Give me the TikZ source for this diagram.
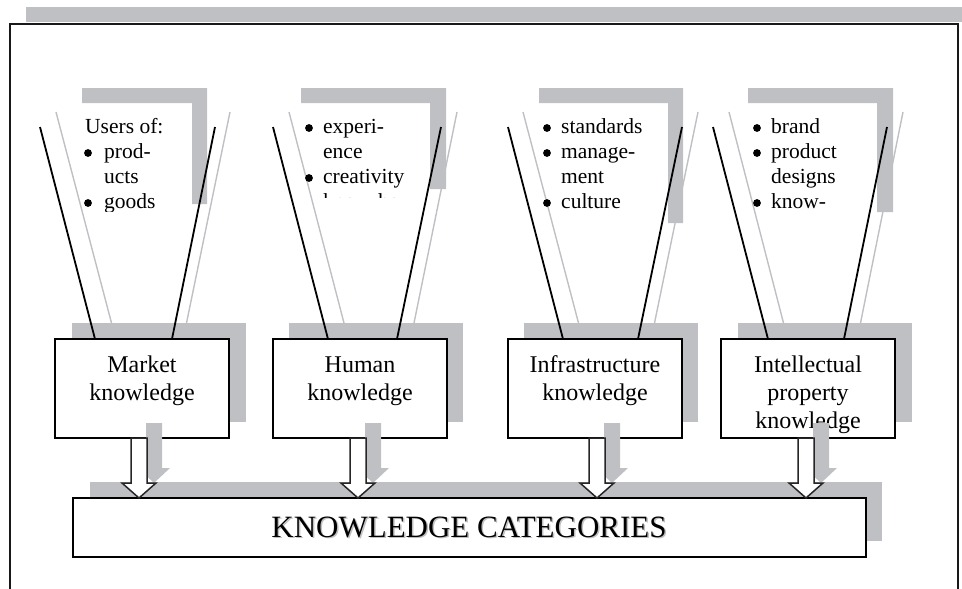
\documentclass[tikz,border=0pt]{standalone}
\usepackage{fontspec}
\setmainfont{Liberation Serif}
\usetikzlibrary{calc}
\definecolor{grayfill}{RGB}{191,192,196}
\begin{document}
\begin{tikzpicture}[x=1pt,y=-1pt,
  boxst/.style={draw=black, line width=1.7pt, fill=white, minimum width=174pt, minimum height=99pt, inner sep=0pt, outer sep=0pt},
  shadowst/.style={fill=grayfill, minimum width=174pt, minimum height=99pt, inner sep=0pt, outer sep=0pt},
  bigbox/.style={draw=black, line width=1.7pt, fill=white, minimum width=793pt, minimum height=59pt, inner sep=0pt, outer sep=0pt},
  bigshadow/.style={fill=grayfill, minimum width=792pt, minimum height=59pt, inner sep=0pt, outer sep=0pt},
  btxt/.style={font=\fontsize{24}{28}\selectfont, anchor=base, inner sep=0pt},
  ftxt/.style={font=\fontsize{21.5}{25}\selectfont, anchor=base west, inner sep=0pt},
  bul/.style={circle, fill=black, minimum size=7.8pt, inner sep=0pt},
  fblack/.style={line width=1.8pt, black},
  fgray/.style={line width=1.4pt, grayfill},
  frame/.style={line width=2.2pt, black!90},
  arrowst/.style={draw=black!85, line width=1.5pt, fill=white},
  grayarrow/.style={fill=grayfill},
]
\useasboundingbox (0,0) rectangle (962,589);

% top gray bar and frame
\fill[grayfill] (26,7) rectangle (962,22);
\draw[frame] (10,589) -- (10,24) -- (958,24) -- (958,589);

% big box
\node[bigshadow] (kcs) at (486,511.5) {};
\node[bigbox] (kc) at (469.5,527.5) {};
\node[font=\fontsize{31}{36}\selectfont, anchor=base, inner sep=0pt, text=grayfill] (kct2) at (470.5,538.2) {KNOWLEDGE CATEGORIES};
\node[font=\fontsize{31}{36}\selectfont, anchor=base, inner sep=0pt] (kct) at (469,537) {KNOWLEDGE CATEGORIES};

% small box shadows
\node[shadowst] (ms) at (158.5,372.5) {};
\node[shadowst] (hs) at (376,372.5) {};
\node[shadowst] (is) at (610.5,372.5) {};
\node[shadowst] (ps) at (824.5,372.5) {};

% gray brackets
\fill[grayfill] (82,88) -- (207,88) -- (207,204) -- (192,204) -- (192,103) -- (82,103) -- cycle;
\fill[grayfill] (301,88) -- (446,88) -- (446,189) -- (430,189) -- (430,103) -- (301,103) -- cycle;
\fill[grayfill] (539,88) -- (683,88) -- (683,223) -- (668,223) -- (668,103) -- (539,103) -- cycle;
\fill[grayfill] (748,88) -- (893,88) -- (893,212) -- (877,212) -- (877,103) -- (748,103) -- cycle;

% funnel top coordinates
\coordinate (mgl) at (56,112);  \coordinate (mgr) at (230,112);
\coordinate (mbl) at (40,127);  \coordinate (mbr) at (215,127);
\coordinate (hgl) at (289,112); \coordinate (hgr) at (457,112);
\coordinate (hbl) at (273,127); \coordinate (hbr) at (441,127);
\coordinate (igl) at (523,112); \coordinate (igr) at (698,112);
\coordinate (ibl) at (508,127); \coordinate (ibr) at (682,127);
\coordinate (pgl) at (729,112); \coordinate (pgr) at (903,112);
\coordinate (pbl) at (713,127); \coordinate (pbr) at (887,127);

% gray funnel lines
\draw[fgray] (mgl) -- ($(ms.north west)+(40,0)$);
\draw[fgray] (mgr) -- ($(ms.north west)+(115,0)$);
\draw[fgray] (hgl) -- ($(hs.north west)+(55,0)$);
\draw[fgray] (hgr) -- ($(hs.north west)+(125,0)$);
\draw[fgray] (igl) -- ($(is.north west)+(55,0)$);
\draw[fgray] (igr) -- ($(is.north west)+(131,0)$);
\draw[fgray] (pgl) -- ($(ps.north west)+(46,0)$);
\draw[fgray] (pgr) -- ($(ps.north west)+(123,0)$);

% funnel texts
\begin{scope}
\clip (60,100) rectangle (240,211);
\node[ftxt] (m1) at (85,133) {Users of:};
\node[bul] (mb1) at (88,153) {};
\node[ftxt] (m2) at (104,158) {prod-};
\node[ftxt] (m3) at (104,183) {ucts};
\node[bul] (mb2) at (88,203) {};
\node[ftxt] (m4) at (104,208) {goods};
\end{scope}
\begin{scope}
\clip (285,100) rectangle (465,197);
\node[bul] (hb1) at (309,128) {};
\node[ftxt] (h1) at (323,133) {experi-};
\node[ftxt] (h2) at (323,158) {ence};
\node[bul] (hb2) at (309,178) {};
\node[ftxt] (h3) at (323,183) {creativity};
\node[ftxt] (h4) at (323,208) {know-how};
\end{scope}
\node[bul] (ib1) at (547,128) {};
\node[ftxt] (i1) at (561,133) {standards};
\node[bul] (ib2) at (547,153) {};
\node[ftxt] (i2) at (561,158) {manage-};
\node[ftxt] (i3) at (561,183) {ment};
\node[bul] (ib3) at (547,203) {};
\node[ftxt] (i4) at (561,208) {culture};
\node[bul] (pb1) at (757,128) {};
\node[ftxt] (p1) at (771,133) {brand};
\node[bul] (pb2) at (757,153) {};
\node[ftxt] (p2) at (771,158) {product};
\node[ftxt] (p3) at (771,183) {designs};
\node[bul] (pb3) at (757,203) {};
\node[ftxt] (p4) at (771,208) {know-};

% small boxes
\node[boxst] (m) at (142,388.5) {};
\node[boxst] (h) at (360,388.5) {};
\node[boxst] (i) at (595,388.5) {};
\node[boxst] (p) at (808,388.5) {};

% black funnel lines
\draw[fblack] (mbl) -- ($(m.north west)+(40,0)$);
\draw[fblack] (mbr) -- ($(m.north west)+(117,0)$);
\draw[fblack] (hbl) -- ($(h.north west)+(55,0)$);
\draw[fblack] (hbr) -- ($(h.north west)+(124,0)$);
\draw[fblack] (ibl) -- ($(i.north west)+(55,0)$);
\draw[fblack] (ibr) -- ($(i.north west)+(130,0)$);
\draw[fblack] (pbl) -- ($(p.north west)+(47,0)$);
\draw[fblack] (pbr) -- ($(p.north west)+(123,0)$);

% box texts
\node[btxt] (mt1) at (142,372) {Market};
\node[btxt] (mt2) at (142,400) {knowledge};
\node[btxt] (ht1) at (360,372) {Human};
\node[btxt] (ht2) at (360,400) {knowledge};
\node[btxt] (it1) at (595,372) {Infrastructure};
\node[btxt] (it2) at (595,400) {knowledge};
\node[btxt] (pt1) at (808,372) {Intellectual};
\node[btxt] (pt2) at (808,400) {property};
\node[btxt] (pt3) at (808,428) {knowledge};

% block arrows (gray shadow, then outlined)
\foreach \b/\dx in {m/-3, h/-2, i/2, p/-2}{
  \path[grayarrow] let \p1=($(\b.south)+(\dx,0)$), \p2=(kc.north) in
    (\x1+7pt,\y1+15pt) -- (\x1+7pt,\y2+30pt) -- (\x1-1pt,\y2+30pt) -- (\x1+15pt,\y2+15pt) -- (\x1+31pt,\y2+30pt) -- (\x1+23pt,\y2+30pt) -- (\x1+23pt,\y1+15pt) -- cycle;
  \path[arrowst] let \p1=($(\b.south)+(\dx,0)$), \p2=(kc.north) in
    (\x1-8pt,\y1) -- (\x1-8pt,\y2+15pt) -- (\x1-17pt,\y2+15pt) -- (\x1,\y2) -- (\x1+17pt,\y2+15pt) -- (\x1+8pt,\y2+15pt) -- (\x1+8pt,\y1) -- cycle;
}
\end{tikzpicture}
\end{document}
